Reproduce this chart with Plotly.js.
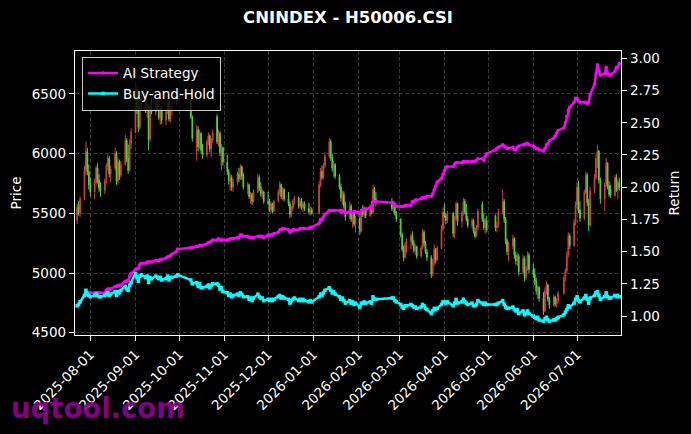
<!DOCTYPE html>
<html>
<head>
<meta charset="utf-8">
<script src="https://cdn.plot.ly/plotly-3.0.1.min.js"></script>
<style>
  html, body { margin: 0; padding: 0; background: #000; }
  #chart { width: 691px; height: 434px; }
</style>
</head>
<body>
<div id="chart"></div>
<script>
// ---------------- DATA ----------------
const TITLE = 'CNINDEX - H50006.CSI';
const FIRST_DAY = '2025-07-23';
const LAST_DAY = '2026-07-30';
// exchange closures (weekends are skipped too)
const HOLIDAYS = [
  '2025-10-01','2025-10-02','2025-10-03','2025-10-06','2025-10-07','2025-10-08',
  '2026-01-01','2026-01-02',
  '2026-02-16','2026-02-17','2026-02-18','2026-02-19','2026-02-20','2026-02-23',
  '2026-04-06','2026-05-01','2026-05-04','2026-05-05','2026-06-19'
];

// daily OHLC, one line per month (Jul 2025 ... Jul 2026)
const OPEN = [
  5440,5560,5500,5630,5860,6010,5850,
  5740,5680,5760,5880,5780,5710,5690,5770,5900,5960,5830,5880,6000,5770,5930,5820,5910,6110,5960,5860,6090,
  6180,6540,6380,6220,6430,6480,6370,6400,6120,6400,6350,6440,6380,6300,6370,6280,6350,6440,6290,6380,6500,6430,
  6440,6310,6050,6200,6060,6170,6030,5990,6100,6150,6040,6110,6310,6100,6170,5900,6050,
  5930,5850,5770,5800,5720,5760,5830,5790,5890,5810,5720,5740,5640,5660,5600,5680,5800,5720,5660,5680,
  5600,5590,5530,5580,5520,5600,5680,5740,5640,5700,5620,5580,5490,5540,5600,5630,5560,5600,5550,5580,5540,5510,5530,
  5500,5740,5850,5800,5900,5980,6100,5970,5880,5910,5810,5720,5630,5660,5560,5470,5560,5450,5500,5410,
  5460,5350,5520,5490,5540,5480,5560,5510,5700,5620,5600,5540,5580,5500,
  5450,5320,5200,5130,5240,5270,5310,5250,5190,5220,5140,5210,5340,5250,5180,5130,4990,5090,5200,5110,5210,5370,
  5510,5480,5440,5500,5330,5460,5580,5430,5500,5600,5510,5450,5400,5440,5350,5310,5380,5580,5450,5380,5440,
  5480,5380,5400,5510,5600,5450,5270,5180,5230,5290,5150,5100,5140,5010,5120,4960,5040,5150,
  5030,4990,4930,4850,4880,4790,4680,4850,4900,4780,4730,4800,4740,4770,4830,4960,5020,5150,5310,5230,5420,
  5570,5720,5530,5460,5680,5820,5590,5400,5690,5800,5960,6020,5780,5620,5740,5920,5730,5700,5650,5800,5700,5760
];
const HIGH = [
  5580,5600,5640,5900,6100,6050,5910,
  5800,5790,5900,5920,5830,5760,5790,5920,5990,5980,5900,6050,6020,5960,5950,5940,6160,6130,6075,6120,6215,
  6600,6560,6420,6460,6520,6510,6440,6420,6440,6470,6460,6470,6420,6390,6400,6380,6460,6470,6400,6430,6520,6500,
  6450,6320,6240,6230,6200,6180,6080,6120,6180,6160,6130,6200,6330,6200,6190,6080,6060,
  5990,5870,5830,5820,5790,5850,5880,5910,5900,5840,5760,5750,5680,5670,5700,5830,5820,5760,5700,5690,
  5680,5620,5600,5590,5610,5700,5770,5750,5720,5710,5680,5600,5560,5620,5650,5640,5620,5630,5600,5600,5590,5560,5550,
  5770,5880,5900,5920,6010,6130,6120,6000,5940,5920,5830,5750,5690,5685,5600,5600,5580,5520,5510,5480,
  5500,5540,5570,5560,5550,5580,5600,5740,5720,5680,5630,5600,5590,5520,
  5460,5340,5230,5260,5290,5330,5350,5280,5240,5230,5230,5370,5360,5270,5200,5150,5120,5240,5210,5230,5400,5550,
  5580,5500,5520,5510,5480,5600,5590,5520,5630,5620,5580,5480,5460,5450,5380,5400,5540,5600,5500,5460,5480,
  5490,5430,5540,5700,5620,5470,5290,5260,5320,5300,5180,5170,5160,5150,5140,5060,5180,5170,
  5080,5040,4960,4900,4890,4840,4880,4930,4910,4800,4820,4810,4790,4850,4980,5040,5180,5340,5330,5450,5600,
  5760,5770,5600,5700,5850,5840,5620,5720,5830,6000,6075,6030,5800,5760,5965,5930,5770,5740,5820,5830,5780,5800
];
const LOW = [
  5410,5480,5470,5610,5820,5820,5700,
  5640,5620,5740,5750,5680,5640,5660,5750,5860,5800,5760,5860,5740,5740,5780,5800,5900,5930,5830,5850,6040,
  6170,6330,6180,6200,6360,6340,6300,6030,6100,6330,6320,6360,6280,6240,6250,6240,6330,6270,6260,6320,6410,6400,
  6290,6100,5940,6020,6040,6000,5960,5970,6070,6010,5970,6090,6080,6060,5980,5860,5900,
  5820,5740,5690,5690,5680,5740,5760,5780,5780,5700,5660,5620,5580,5570,5590,5670,5690,5640,5620,5580,
  5570,5510,5500,5500,5510,5590,5650,5620,5610,5600,5560,5460,5470,5520,5570,5540,5540,5530,5510,5520,5490,5480,5490,
  5490,5720,5780,5790,5880,5960,5940,5850,5800,5790,5700,5600,5570,5540,5440,5450,5430,5380,5390,5340,
  5320,5340,5470,5460,5460,5470,5490,5500,5600,5560,5520,5500,5480,5430,
  5300,5180,5100,5120,5170,5200,5230,5170,5150,5120,5130,5200,5220,5160,5100,4960,4970,5060,5080,5100,5200,5350,
  5460,5410,5420,5300,5290,5440,5400,5380,5480,5490,5430,5380,5370,5330,5290,5300,5360,5430,5360,5330,5340,
  5350,5340,5380,5490,5420,5240,5150,5100,5200,5120,5070,5060,4980,4990,4930,4940,5020,5000,
  4960,4900,4820,4780,4760,4650,4670,4820,4760,4700,4720,4720,4710,4750,4820,4930,5000,5130,5200,5220,5400,
  5540,5500,5430,5440,5660,5560,5350,5390,5670,5780,5880,5750,5580,5520,5720,5700,5640,5630,5640,5680,5620,5690
];
const CLOSE = [
  5550,5500,5620,5860,6020,5850,5740,
  5680,5760,5880,5780,5710,5690,5770,5900,5960,5830,5870,6000,5770,5930,5820,5910,6110,5960,5860,6090,6180,
  6540,6380,6220,6430,6480,6370,6410,6120,6400,6350,6440,6380,6300,6370,6280,6350,6440,6290,6380,6400,6430,6470,
  6310,6130,6200,6060,6170,6030,5990,6100,6150,6040,6110,6180,6100,6170,6010,6050,5930,
  5850,5770,5800,5720,5760,5830,5790,5890,5810,5720,5740,5640,5660,5600,5680,5800,5720,5660,5680,5600,
  5590,5530,5580,5520,5600,5680,5740,5640,5700,5620,5580,5490,5540,5600,5630,5560,5600,5550,5580,5540,5510,5530,5500,
  5740,5850,5800,5900,5980,6100,5970,5880,5910,5810,5720,5630,5660,5560,5470,5560,5450,5500,5410,5460,
  5350,5520,5490,5540,5480,5560,5510,5700,5620,5590,5540,5580,5500,5450,
  5320,5200,5130,5240,5270,5310,5250,5190,5220,5140,5210,5340,5250,5180,5130,4990,5090,5200,5110,5210,5370,5510,
  5480,5440,5500,5330,5460,5580,5430,5500,5600,5510,5450,5400,5440,5350,5310,5380,5520,5450,5380,5440,5360,
  5380,5400,5510,5600,5450,5270,5180,5230,5290,5150,5100,5140,5010,5120,4960,5040,5150,5030,
  4990,4930,4850,4880,4790,4680,4850,4900,4780,4730,4800,4740,4770,4830,4960,5020,5150,5310,5230,5420,5570,
  5720,5530,5460,5680,5820,5590,5400,5690,5800,5960,6020,5780,5620,5740,5920,5730,5660,5650,5800,5700,5760,5720
];

// cumulative returns (right axis)
const AI_STRATEGY = [
  1.08,1.09,1.11,1.16,1.19,1.18,1.18,
  1.18,1.18,1.18,1.18,1.18,1.18,1.18,1.20,1.21,1.21,1.21,1.23,1.23,1.24,1.24,1.24,1.27,1.27,1.28,1.31,1.33,
  1.36,1.37,1.37,1.40,1.41,1.41,1.42,1.42,1.42,1.42,1.43,1.43,1.43,1.44,1.44,1.45,1.46,1.46,1.47,1.48,1.50,1.52,
  1.53,1.53,1.54,1.54,1.55,1.55,1.55,1.56,1.57,1.57,1.58,1.59,1.59,1.60,1.59,1.59,1.59,
  1.59,1.59,1.60,1.60,1.60,1.61,1.61,1.63,1.63,1.62,1.62,1.61,1.61,1.61,1.61,1.62,1.62,1.62,1.62,1.61,
  1.63,1.63,1.63,1.63,1.64,1.65,1.67,1.67,1.68,1.68,1.67,1.65,1.66,1.67,1.67,1.67,1.68,1.68,1.68,1.68,1.68,1.69,1.69,
  1.72,1.75,1.75,1.77,1.79,1.82,1.82,1.82,1.82,1.82,1.82,1.81,1.82,1.81,1.80,1.81,1.81,1.80,1.81,1.81,
  1.80,1.82,1.82,1.83,1.83,1.84,1.84,1.89,1.89,1.89,1.88,1.88,1.86,1.85,
  1.85,1.85,1.85,1.86,1.86,1.86,1.89,1.89,1.90,1.90,1.91,1.92,1.92,1.92,1.93,1.93,1.95,1.98,2.01,2.04,2.07,2.10,
  2.13,2.15,2.16,2.16,2.18,2.19,2.19,2.19,2.20,2.20,2.20,2.20,2.20,2.20,2.20,2.21,2.22,2.22,2.21,2.24,2.26,
  2.29,2.30,2.31,2.33,2.32,2.31,2.30,2.30,2.31,2.29,2.29,2.31,2.32,2.33,2.33,2.34,2.34,2.33,
  2.32,2.31,2.30,2.30,2.29,2.28,2.30,2.33,2.34,2.36,2.38,2.40,2.42,2.44,2.46,2.50,2.55,2.60,2.62,2.66,2.69,
  2.69,2.67,2.66,2.66,2.66,2.65,2.66,2.72,2.80,2.88,2.95,2.90,2.87,2.88,2.93,2.88,2.87,2.87,2.90,2.93,2.93,2.96
];
const BUY_AND_HOLD = [
  1.08,1.09,1.11,1.16,1.20,1.17,1.16,
  1.15,1.16,1.17,1.16,1.15,1.15,1.16,1.17,1.18,1.16,1.17,1.19,1.16,1.19,1.18,1.20,1.23,1.21,1.20,1.24,1.26,
  1.33,1.30,1.27,1.31,1.32,1.30,1.31,1.26,1.30,1.29,1.31,1.30,1.29,1.30,1.28,1.29,1.31,1.28,1.30,1.30,1.31,1.32,
  1.28,1.25,1.26,1.23,1.25,1.22,1.22,1.23,1.24,1.22,1.24,1.25,1.25,1.24,1.21,1.22,1.19,
  1.18,1.16,1.17,1.15,1.16,1.17,1.16,1.18,1.17,1.15,1.15,1.13,1.14,1.12,1.14,1.17,1.15,1.14,1.14,1.12,
  1.13,1.12,1.13,1.12,1.13,1.15,1.16,1.14,1.15,1.14,1.13,1.10,1.12,1.13,1.14,1.12,1.13,1.12,1.13,1.12,1.11,1.12,1.11,
  1.15,1.17,1.16,1.18,1.20,1.22,1.20,1.18,1.19,1.17,1.15,1.13,1.14,1.12,1.10,1.12,1.10,1.11,1.09,1.10,
  1.07,1.10,1.10,1.11,1.10,1.11,1.10,1.15,1.13,1.13,1.14,1.14,1.12,1.11,
  1.09,1.07,1.06,1.08,1.08,1.09,1.08,1.07,1.07,1.06,1.07,1.09,1.08,1.06,1.05,1.02,1.04,1.06,1.05,1.06,1.09,1.11,
  1.11,1.10,1.11,1.08,1.10,1.13,1.10,1.11,1.13,1.11,1.10,1.09,1.10,1.08,1.08,1.09,1.12,1.10,1.09,1.10,1.09,
  1.09,1.09,1.10,1.12,1.09,1.07,1.06,1.06,1.07,1.05,1.04,1.05,1.02,1.04,1.01,1.02,1.04,1.02,
  1.00,0.99,0.98,0.99,0.97,0.96,0.98,0.99,0.97,0.96,0.97,0.97,0.98,0.99,1.01,1.03,1.05,1.08,1.07,1.10,1.13,
  1.15,1.12,1.11,1.14,1.16,1.13,1.10,1.14,1.16,1.18,1.19,1.16,1.13,1.15,1.18,1.15,1.14,1.14,1.16,1.15,1.16,1.15
];
const SERIES_NAMES = ['AI Strategy', 'Buy-and-Hold'];
const X_TICK_START = '2025-08-01';
const PRICE_TICKS = [4500, 5000, 5500, 6000, 6500];
const RETURN_TICKS = [1.00, 1.25, 1.50, 1.75, 2.00, 2.25, 2.50, 2.75, 3.00];
const WATERMARK = 'uqtool.com';

// ---------------- trading calendar ----------------
function tradingDays(first, last, holidays) {
  const out = [];
  const skip = new Set(holidays);
  const d = new Date(first + 'T00:00:00Z');
  const end = new Date(last + 'T00:00:00Z');
  while (d <= end) {
    const wd = d.getUTCDay();
    const s = d.toISOString().slice(0, 10);
    if (wd !== 0 && wd !== 6 && !skip.has(s)) out.push(s);
    d.setUTCDate(d.getUTCDate() + 1);
  }
  return out;
}
const DATES = tradingDays(FIRST_DAY, LAST_DAY, HOLIDAYS);
if (DATES.length !== CLOSE.length) console.error('length mismatch', DATES.length, CLOSE.length);

// ---------------- chart ----------------
const FONT = 'DejaVu Sans, Liberation Sans, sans-serif';
const RED = '#e8473e';
const GREEN = '#5fe84a';

const traces = [
  {
    type: 'candlestick', x: DATES, open: OPEN, high: HIGH, low: LOW, close: CLOSE,
    increasing: { line: { color: RED, width: 1 }, fillcolor: RED },
    decreasing: { line: { color: GREEN, width: 1 }, fillcolor: GREEN },
    whiskerwidth: 0, showlegend: false, hoverinfo: 'skip', opacity: 0.9
  },
  {
    type: 'scatter', mode: 'lines+markers', x: DATES, y: AI_STRATEGY, yaxis: 'y2',
    name: SERIES_NAMES[0],
    line: { color: '#ff00ff', width: 2.4 },
    marker: { color: '#ff00ff', size: 3.5, symbol: 'circle' }
  },
  {
    type: 'scatter', mode: 'lines+markers', x: DATES, y: BUY_AND_HOLD, yaxis: 'y2',
    name: SERIES_NAMES[1],
    line: { color: '#00ffff', width: 2.4 },
    marker: { color: '#00ffff', size: 3.5, symbol: 'square' }
  }
];

const layout = {
  width: 691, height: 434,
  paper_bgcolor: '#000', plot_bgcolor: '#000',
  font: { family: FONT, color: '#ffffff', size: 13.5 },
  margin: { l: 75, r: 70, t: 51, b: 99, pad: 0 },
  title: {
    text: '<b>' + TITLE + '</b>',
    font: { family: FONT, size: 16.5, color: '#ffffff' },
    x: 0.5, xref: 'paper', xanchor: 'center',
    y: 0.961, yref: 'container', yanchor: 'middle'
  },
  showlegend: true,
  legend: {
    x: 0.013, y: 0.98, xanchor: 'left', yanchor: 'top',
    bgcolor: 'rgba(0,0,0,0.8)', bordercolor: '#cccccc', borderwidth: 1,
    font: { family: FONT, size: 13.5, color: '#ffffff' },
    tracegroupgap: 0
  },
  xaxis: {
    type: 'date',
    range: ['2025-07-21 12:00', '2026-07-31 04:00'],
    rangeslider: { visible: false },
    tick0: X_TICK_START, dtick: 'M1', tickformat: '%Y-%m-%d', tickangle: -45,
    ticks: 'outside', ticklen: 5, tickcolor: '#ffffff', tickwidth: 1,
    tickfont: { family: FONT, size: 13.5, color: '#ffffff' },
    showgrid: true, gridcolor: 'rgba(150,150,150,0.45)', griddash: '4px,2px', gridwidth: 0.8,
    showline: true, linecolor: '#ffffff', linewidth: 1.2, mirror: true,
    zeroline: false, automargin: false
  },
  yaxis: {
    range: [4481, 6860],
    tickvals: PRICE_TICKS, ticktext: PRICE_TICKS.map(String),
    ticks: 'outside', ticklen: 5, tickcolor: '#ffffff', tickwidth: 1,
    tickfont: { family: FONT, size: 13.5, color: '#ffffff' },
    title: { text: 'Price', font: { family: FONT, size: 13.5, color: '#ffffff' }, standoff: 7 },
    showgrid: true, gridcolor: 'rgba(150,150,150,0.45)', griddash: '4px,2px', gridwidth: 0.8,
    showline: true, linecolor: '#ffffff', linewidth: 1.2,
    zeroline: false, automargin: false
  },
  yaxis2: {
    overlaying: 'y', side: 'right',
    range: [0.853, 3.057],
    tickvals: RETURN_TICKS, ticktext: RETURN_TICKS.map(v => v.toFixed(2)),
    ticks: 'outside', ticklen: 5, tickcolor: '#ffffff', tickwidth: 1,
    tickfont: { family: FONT, size: 13.5, color: '#ffffff' },
    title: { text: 'Return', font: { family: FONT, size: 13.5, color: '#ffffff' }, standoff: 10 },
    showgrid: false,
    showline: true, linecolor: '#ffffff', linewidth: 1.2,
    zeroline: false, automargin: false
  },
  annotations: [{
    text: '<b>' + WATERMARK + '</b>',
    xref: 'paper', yref: 'paper',
    x: -0.121, y: -0.256, xanchor: 'left', yanchor: 'middle',
    showarrow: false,
    font: { family: FONT, size: 27.5, color: 'rgba(150,0,150,0.88)' }
  }]
};

Plotly.newPlot('chart', traces, layout, { staticPlot: true, displayModeBar: false });
</script>
</body>
</html>
